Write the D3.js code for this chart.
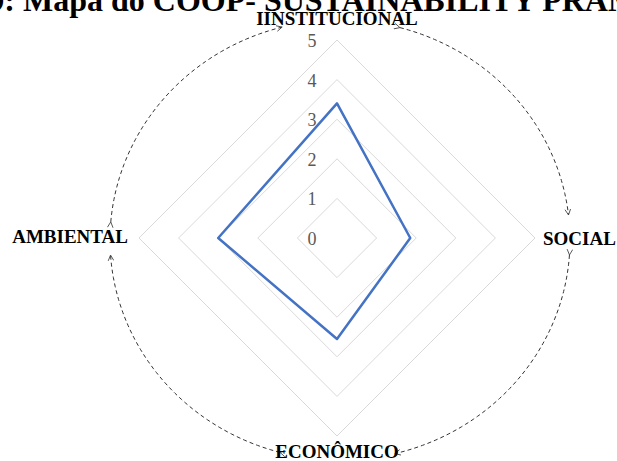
<!DOCTYPE html>
<html><head><meta charset="utf-8">
<script src="https://cdn.jsdelivr.net/npm/d3@7"></script>
<style>html,body{margin:0;padding:0;background:#fff;overflow:hidden}</style>
</head><body>
<svg id="c" width="617" height="461"></svg>
<script>
const categories = ["IINSTITUCIONAL", "SOCIAL", "ECONÔMICO", "AMBIENTAL"];
const values = [3.4, 1.85, 2.55, 3.0];
const tickValues = [0, 1, 2, 3, 4, 5];
const titleText = "Figura 9: Mapa do COOP- SUSTAINABILITY PRAMA";

const svg = d3.select("#c");
const cx = 337, cy = 238;
const r = d3.scaleLinear().domain([0, 5]).range([0, 198]);
const ang = (i) => i * 2 * Math.PI / categories.length;
const pt = (i, v) => [cx + r(v) * Math.sin(ang(i)), cy - r(v) * Math.cos(ang(i))];

const serif = "'Liberation Serif','Times New Roman',serif";

// title (cut off at top/left/right as in reference)
const title = svg.append("text").attr("x", 0).attr("y", 11)
  .attr("font-family", serif).attr("font-weight", "bold")
  .attr("font-size", 32).attr("fill", "#000").text(titleText);
const idx = titleText.indexOf("Mapa");
const off = title.node().getSubStringLength(0, idx);
title.attr("x", 23 - off);

// dashed ellipse arcs with arrows
const defs = svg.append("defs");
defs.append("marker").attr("id", "arr").attr("viewBox", "0 0 10 10")
  .attr("refX", 9).attr("refY", 5).attr("markerWidth", 7).attr("markerHeight", 7)
  .attr("markerUnits", "userSpaceOnUse").attr("orient", "auto")
  .append("path").attr("d", "M1,1 L9,5 L1,9").attr("fill", "none")
  .attr("stroke", "#404040").attr("stroke-width", 1.2);
const ecx = 340, ecy = 240, erx = 230, ery = 220;
const arcs = [[3.224, 4.458], [4.976, 6.169], [0.068, 1.33], [1.835, 3.073]];
const arcLine = d3.line();
arcs.forEach(([a0, a1]) => {
  const pts = d3.range(0, 61).map(k => {
    const t = a0 + (a1 - a0) * k / 60;
    return [ecx + erx * Math.cos(t), ecy + ery * Math.sin(t)];
  });
  svg.append("path").attr("d", arcLine(pts)).attr("fill", "none")
    .attr("stroke", "#333").attr("stroke-width", 1)
    .attr("stroke-dasharray", "4,3")
    .attr("marker-start", "url(#arr)").attr("marker-end", "url(#arr)");
});

// gridlines
const lineClosed = d3.line().curve(d3.curveLinearClosed);
tickValues.filter(v => v > 0).forEach(v => {
  svg.append("path").attr("d", lineClosed(categories.map((c, i) => pt(i, v))))
    .attr("fill", "none").attr("stroke", "#D9D9D9").attr("stroke-width", 1);
});

// tick labels
svg.selectAll(".tick").data(tickValues).enter().append("text")
  .attr("x", cx - 25).attr("y", v => cy - r(v) + 7)
  .attr("text-anchor", "middle").attr("font-family", serif)
  .attr("font-size", 18).attr("fill", "#595959").text(v => v);

// data polygon
svg.append("path").attr("d", lineClosed(values.map((v, i) => pt(i, v))))
  .attr("fill", "none").attr("stroke", "#4472C4").attr("stroke-width", 2.5)
  .attr("stroke-linejoin", "round");

// category labels
const labelPos = [
  {x: cx, y: cy - 213, a: "middle"},
  {x: cx + 206, y: cy + 7, a: "start"},
  {x: cx, y: cy + 220, a: "middle"},
  {x: cx - 209, y: cy + 5, a: "end"}
];
categories.forEach((c, i) => {
  svg.append("text").attr("x", labelPos[i].x).attr("y", labelPos[i].y)
    .attr("text-anchor", labelPos[i].a).attr("font-family", serif)
    .attr("font-weight", "bold").attr("font-size", 19).attr("fill", "#000").text(c);
});
</script>
</body></html>
